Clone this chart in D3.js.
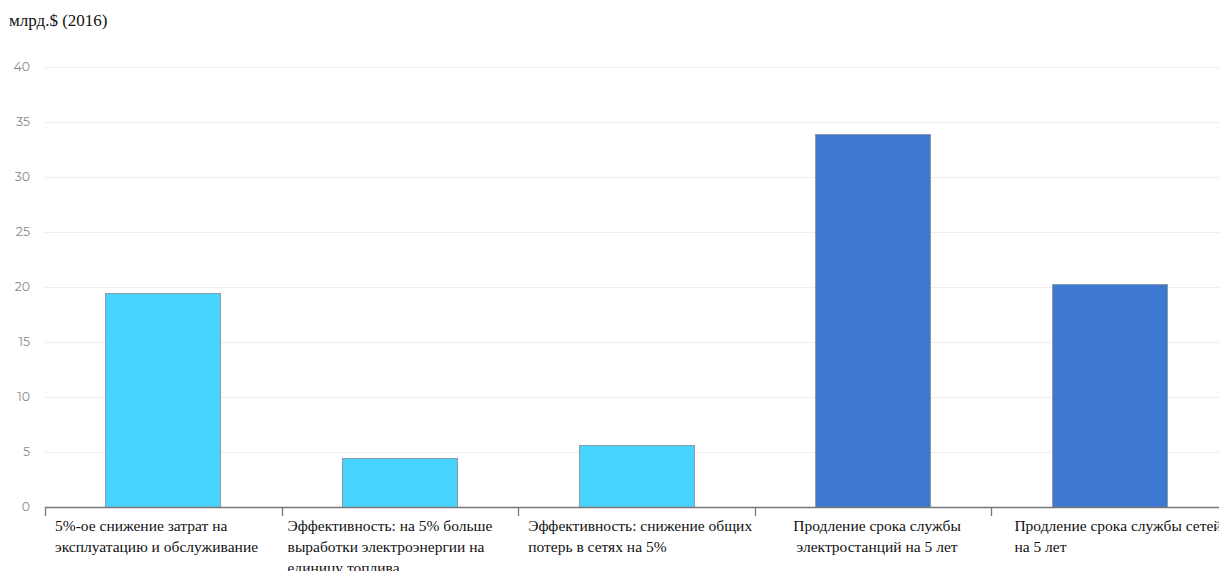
<!DOCTYPE html>
<html><head><meta charset="utf-8">
<script src="https://cdnjs.cloudflare.com/ajax/libs/d3/7.8.5/d3.min.js"></script>
<style>
body{margin:0;background:#fff;}
svg{display:block;}
</style></head>
<body><svg id="c" width="1219" height="571"></svg>
<script>
const categories = [
  ["5%-ое снижение затрат на", "эксплуатацию и обслуживание"],
  ["Эффективность: на 5% больше", "выработки электроэнергии на", "единицу топлива"],
  ["Эффективность: снижение общих", "потерь в сетях на 5%"],
  ["Продление срока службы", "электростанций на 5 лет"],
  ["Продление срока службы сетей", "на 5 лет"]
];
const values = [19.5, 4.5, 5.6, 33.9, 20.3];
const groups = ["a", "a", "a", "b", "b"];
const yTicks = [0, 5, 10, 15, 20, 25, 30, 35, 40];
const unitTitle = "млрд.$ (2016)";

// layout (styling, not data)
const colors = {a: "#48D3FF", b: "#3D78D1"};
const labelAnchor = ["start", "start", "start", "middle", "start"];
const labelDx = [10, 6, 10, 4, 23];

const svg = d3.select("#c");
const mLeft = 45, mBottom = 507, mTop = 67;
const bandW = 236.6;
const x = d3.scaleBand().domain(d3.range(values.length)).range([mLeft, mLeft + bandW * values.length]).paddingInner(0.51).paddingOuter(0.255);
const y = d3.scaleLinear().domain([0, 40]).range([mBottom, mTop]);

svg.append("text").attr("x", 9).attr("y", 26).attr("font-family", "Liberation Serif, Times New Roman, serif")
  .attr("font-size", 17).attr("fill", "#111").text(unitTitle);

// grid
svg.append("g").selectAll("line").data(yTicks.filter(d => d > 0)).join("line")
  .attr("x1", mLeft).attr("x2", 1219).attr("y1", d => Math.round(y(d)) + 0.5).attr("y2", d => Math.round(y(d)) + 0.5)
  .attr("stroke", "#eeeeee").attr("stroke-width", 1);

// y labels
svg.append("g").selectAll("text").data(yTicks).join("text")
  .attr("x", 30).attr("y", d => y(d)).attr("dy", "0.35em").attr("text-anchor", "end")
  .attr("font-family", "Montserrat, Lato, sans-serif").attr("font-size", 12.5).attr("fill", "#8a8a8a")
  .text(d => d);

// bars
svg.append("g").selectAll("rect").data(values).join("rect")
  .attr("x", (d, i) => Math.round(x(i)) + 0.5).attr("width", Math.round(x.bandwidth()) - 1)
  .attr("y", d => Math.round(y(d)) + 0.5).attr("height", d => mBottom - Math.round(y(d)))
  .attr("fill", (d, i) => colors[groups[i]]).attr("stroke", "#8a9aa6").attr("stroke-width", 1);

// x axis
const bounds = d3.range(values.length + 1).map(i => mLeft + bandW * i);
svg.append("line").attr("x1", mLeft).attr("x2", 1219).attr("y1", mBottom + 0.5).attr("y2", mBottom + 0.5)
  .attr("stroke", "#777").attr("stroke-width", 1.3);
svg.append("g").selectAll("line").data(bounds).join("line")
  .attr("x1", d => Math.round(d) + 0.5).attr("x2", d => Math.round(d) + 0.5)
  .attr("y1", mBottom).attr("y2", mBottom + 9).attr("stroke", "#777").attr("stroke-width", 1.3);

// category labels
const lbl = svg.append("g").attr("font-family", "Liberation Serif, Times New Roman, serif").attr("font-size", 15.5).attr("fill", "#111");
categories.forEach((lines, i) => {
  const cx = labelAnchor[i] === "middle" ? x(i) + x.bandwidth() / 2 + labelDx[i] : bounds[i] + labelDx[i];
  const t = lbl.append("text").attr("text-anchor", labelAnchor[i]);
  lines.forEach((ln, j) => t.append("tspan").attr("x", cx).attr("y", 531 + j * 21).text(ln));
});
</script></body></html>
